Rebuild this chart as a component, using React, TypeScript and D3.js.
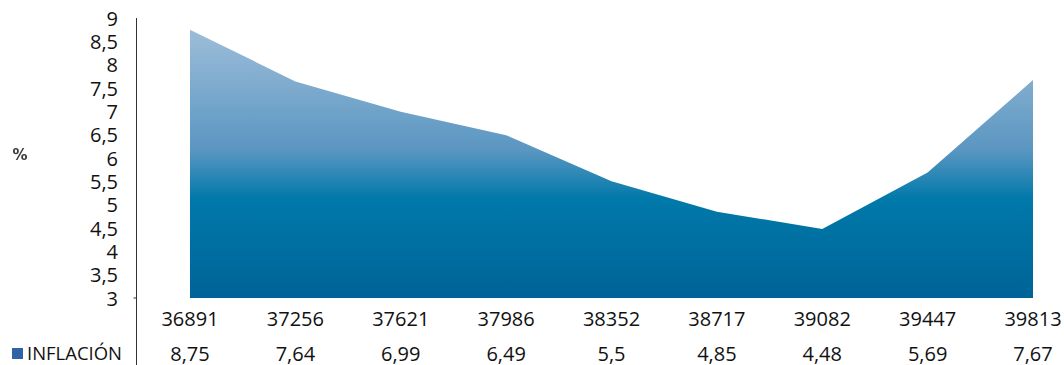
import React from "react";
import * as d3 from "d3";

// Annual inflation series
const categories: string[] = ["36891", "37256", "37621", "37986", "38352", "38717", "39082", "39447", "39813"];
const inflacion: number[] = [8.75, 7.64, 6.99, 6.49, 5.5, 4.85, 4.48, 5.69, 7.67];
const yTicks: number[] = [3, 3.5, 4, 4.5, 5, 5.5, 6, 6.5, 7, 7.5, 8, 8.5, 9];
const seriesName = "INFLACIÓN";
const unitLabel = "%";

const W = 1064;
const H = 365;
const FONT = "'Open Sans', 'Noto Sans', sans-serif";

const fmt = (v: number) => String(v).replace(".", ",");

export default function App() {
  const x = d3.scalePoint<string>().domain(categories).range([190, 1033]);
  const y = d3.scaleLinear().domain([3, 9]).range([298, 18]);

  const area = d3
    .area<number>()
    .x((_, i) => x(categories[i]) as number)
    .y0(y(3))
    .y1((d) => y(d));

  const axisX = 136.5;

  return (
    <svg width={W} height={H} style={{ position: "absolute", left: 0, top: 0, background: "#fff" }}>
      <defs>
        <linearGradient id="areaFill" gradientUnits="userSpaceOnUse" x1={0} x2={0} y1={y(8.75)} y2={y(3)}>
          <stop offset="0" stopColor="#9dbdd9" />
          <stop offset="0.45" stopColor="#5a96c1" />
          <stop offset="0.63" stopColor="#0079aa" />
          <stop offset="1" stopColor="#006397" />
        </linearGradient>
        <filter id="soft" x="-30%" y="-30%" width="160%" height="160%">
          <feGaussianBlur stdDeviation="0.6" />
        </filter>
      </defs>

      <path d={area(inflacion) || ""} fill="url(#areaFill)" />

      {/* vertical axis */}
      <line x1={axisX} x2={axisX} y1={y(9)} y2={H} stroke="#333" strokeWidth={1} />
      <line x1={axisX - 3} x2={axisX} y1={y(3)} y2={y(3)} stroke="#333" strokeWidth={1} />

      {yTicks.map((t) => (
        <text
          key={t}
          x={118}
          y={y(t)}
          textAnchor="end"
          dominantBaseline="central"
          fontFamily={FONT}
          fontSize={20}
          fill="#111"
        >
          {fmt(t)}
        </text>
      ))}

      <text
        x={20}
        y={155}
        textAnchor="middle"
        dominantBaseline="central"
        fontFamily="'DejaVu Sans', sans-serif"
        fontWeight="bold"
        fontSize={15}
        fill="#3a3a3a"
        filter="url(#soft)"
      >
        {unitLabel}
      </text>

      {categories.map((c) => (
        <text
          key={c}
          x={x(c)}
          y={318}
          textAnchor="middle"
          dominantBaseline="central"
          fontFamily={FONT}
          fontSize={20}
          fill="#111"
        >
          {c}
        </text>
      ))}

      {/* data table row */}
      <rect x={12} y={348} width={11} height={11} fill="#2f62a6" />
      <text x={27} y={360} fontFamily={FONT} fontSize={18} fill="#111" textLength={95} lengthAdjust="spacingAndGlyphs">
        {seriesName}
      </text>
      {inflacion.map((v, i) => (
        <text
          key={i}
          x={x(categories[i])}
          y={353}
          textAnchor="middle"
          dominantBaseline="central"
          fontFamily={FONT}
          fontSize={20}
          fill="#111"
        >
          {fmt(v)}
        </text>
      ))}
    </svg>
  );
}
